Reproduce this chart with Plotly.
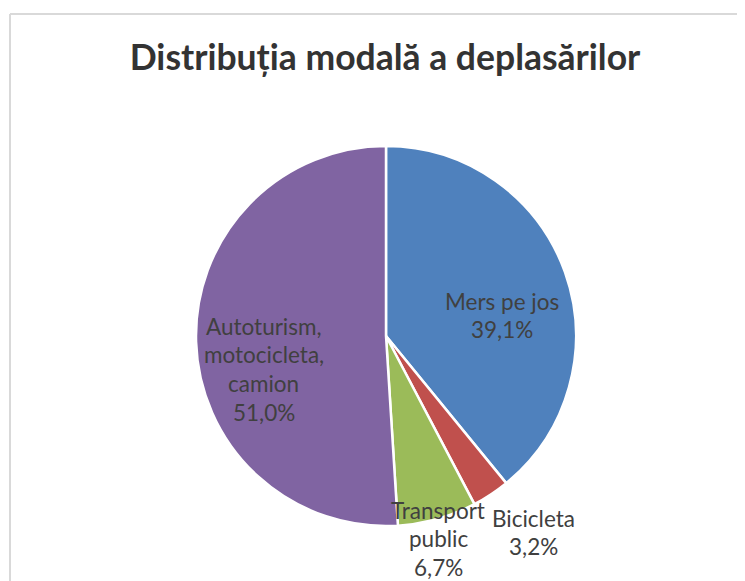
import plotly.graph_objects as go

OFF = 8  # page body margin offset
W, H = 745 - OFF, 581 - OFF

# ---- data ----
categories = ["Mers pe jos", "Bicicleta", "Transport public", "Autoturism, motocicleta, camion"]
label_lines = [["Mers pe jos"], ["Bicicleta"], ["Transport", "public"],
               ["Autoturism,", "motocicleta,", "camion"]]
values = [39.1, 3.2, 6.7, 51.0]
colors = ["#4F81BD", "#C0504D", "#9BBB59", "#8064A2"]
title_text = "Distribuția modală a deplasărilor"

# ---- layout helpers (pixel positions of label blocks: center x, first-line center y) ----
label_pos = [(502, 301), (533, 518), (438, 510), (264, 326)]
line_gap = 28.8

def px(x):
    return (x - OFF) / W

def py(y):
    return 1 - (y - OFF) / H

fig = go.Figure()
fig.add_trace(go.Pie(
    labels=categories,
    values=values,
    sort=False,
    direction="clockwise",
    rotation=0,
    marker=dict(colors=colors, line=dict(color="white", width=2.5)),
    textinfo="none",
    hoverinfo="label+percent",
    domain=dict(x=[px(196), px(576)], y=[py(526), py(146)]),
    showlegend=False,
))

font_lbl = dict(family="Lato, 'Open Sans', sans-serif", size=22.5, color="#404040")
ann = []
for lines, v, (cx, cy) in zip(label_lines, values, label_pos):
    all_lines = lines + [f"{v:.1f}".replace(".", ",") + "%"]
    for i, t in enumerate(all_lines):
        ann.append(dict(text=t, x=px(cx), y=py(cy + i * line_gap), xref="paper", yref="paper",
                        xanchor="center", yanchor="middle", showarrow=False, font=font_lbl))

border = dict(color="#D9D9D9", width=2)
fig.update_layout(
    width=W, height=H,
    margin=dict(l=0, r=0, t=0, b=0),
    paper_bgcolor="white",
    plot_bgcolor="white",
    title=dict(text="<b>" + title_text + "</b>", x=px(385), xanchor="center",
               y=py(58), yanchor="middle",
               font=dict(family="Lato, 'Open Sans', sans-serif", size=35.5, color="#333333")),
    annotations=ann,
    shapes=[
        dict(type="line", xref="paper", yref="paper", x0=px(10), x1=1.0, y0=py(14), y1=py(14), line=border),
        dict(type="line", xref="paper", yref="paper", x0=px(10), x1=px(10), y0=0.0, y1=py(14), line=border),
    ],
)

fig.write_html("out.html", post_script="document.body.style.overflow='hidden';")
